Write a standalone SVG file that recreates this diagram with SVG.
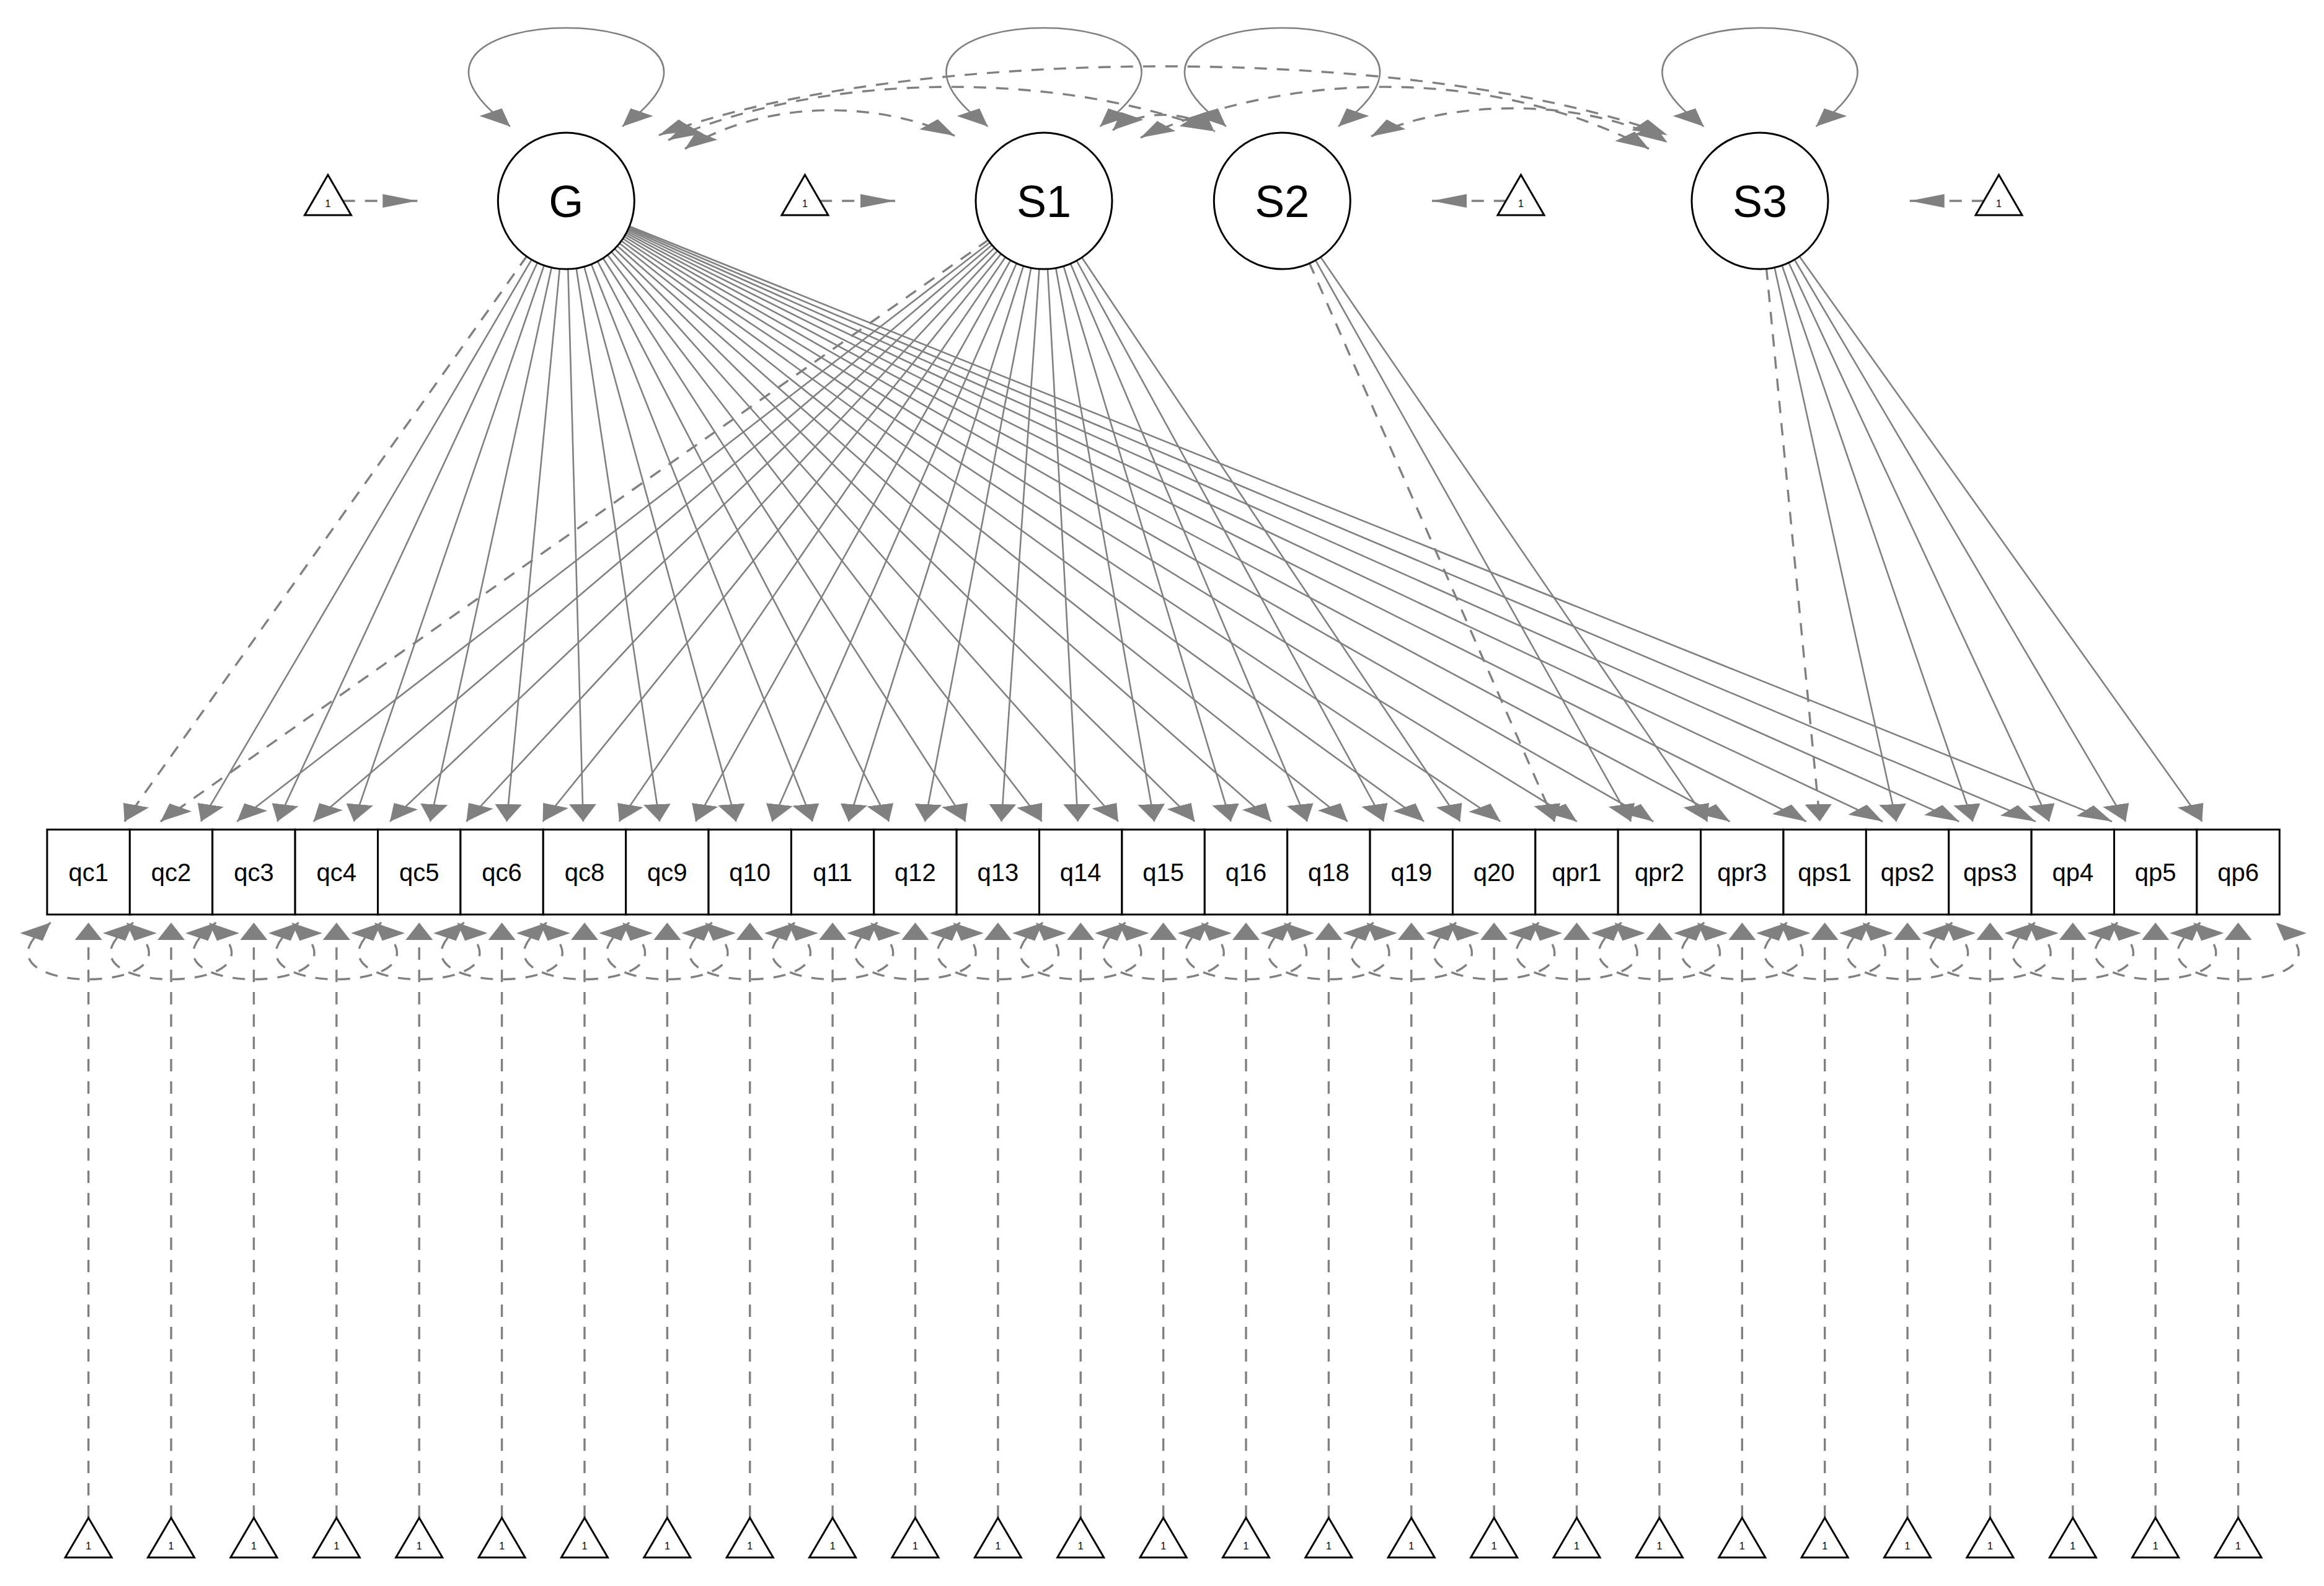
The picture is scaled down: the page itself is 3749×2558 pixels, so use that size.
<svg xmlns="http://www.w3.org/2000/svg" width="3749" height="2558" viewBox="0 0 3749 2558">
<style>
.c{fill:none;stroke:#808080;stroke-width:2.6;vector-effect:non-scaling-stroke}
.d{stroke-dasharray:20 16;stroke-width:3.4}
.a{marker-end:url(#ah)}
.b{marker-start:url(#ah);marker-end:url(#ah)}
.lat circle{fill:#fff;stroke:#000;stroke-width:3}
.lat text{font-family:'Liberation Sans',Arial,sans-serif;font-size:72px;text-anchor:middle;fill:#000}
.man rect{fill:#fff;stroke:#000;stroke-width:3}
.man text{font-family:'Liberation Sans',Arial,sans-serif;font-size:40px;text-anchor:middle;fill:#000}
.tri polygon{fill:#fff;stroke:#000;stroke-width:3;stroke-linejoin:miter}
.tri text{font-family:'Liberation Sans',Arial,sans-serif;font-size:16px;text-anchor:middle;fill:#000}
</style>
<defs>
<marker id="ah" viewBox="0 0 28 22" refX="28" refY="11" markerWidth="28" markerHeight="22" markerUnits="userSpaceOnUse" orient="auto-start-reverse"><path d="M0,0L28,11L0,22z" fill="#808080"/></marker>
</defs>
<rect width="3749" height="2558" fill="#fff"/>
<g id="connectors" transform="scale(2,1)">
<!-- latent variances -->
<path class="c b" d="M411.5,204 c-144.75,-212 235.25,-212 90.5,0"/>
<path class="c b" d="M796.75,204 c-144.75,-212 235.25,-212 90.5,0"/>
<path class="c b" d="M989,204 c-144.75,-212 235.25,-212 90.5,0"/>
<path class="c b" d="M1374.25,204 c-144.75,-212 235.25,-212 90.5,0"/>
<!-- latent covariances -->
<path class="c d b" d="M531.5,218 C731.5,70 1145,70 1345,218"/>
<path class="c d b" d="M539,226 C664,114 855,114 980,212"/>
<path class="c d b" d="M552.5,240 C617.5,161 705,161 770,219"/>
<path class="c d b" d="M897.5,210 C920,177 956.5,177 979,210"/>
<path class="c d b" d="M920,222 C1045,110 1205,110 1330,240"/>
<path class="c d b" d="M1106,220 C1170,158 1280,158 1345,230"/>
<!-- latent intercepts -->
<path class="c d a" d="M276.35,324 H336.65"/>
<path class="c d a" d="M661.1,324 H722"/>
<path class="c d a" d="M1214.9,324 H1155"/>
<path class="c d a" d="M1600.4,324 H1540.35"/>
<!-- G loadings -->
<path class="c d a" d="M456.65,324 L100.43,1325"/>
<path class="c a" d="M456.65,324 L162.08,1325"/>
<path class="c a" d="M456.65,324 L223.74,1325"/>
<path class="c a" d="M456.65,324 L285.40,1325"/>
<path class="c a" d="M456.65,324 L347.06,1325"/>
<path class="c a" d="M456.65,324 L408.71,1325"/>
<path class="c a" d="M456.65,324 L470.37,1325"/>
<path class="c a" d="M456.65,324 L532.03,1325"/>
<path class="c a" d="M456.65,324 L593.69,1325"/>
<path class="c a" d="M456.65,324 L655.34,1325"/>
<path class="c a" d="M456.65,324 L717.00,1325"/>
<path class="c a" d="M456.65,324 L778.66,1325"/>
<path class="c a" d="M456.65,324 L840.32,1325"/>
<path class="c a" d="M456.65,324 L901.97,1325"/>
<path class="c a" d="M456.65,324 L963.63,1325"/>
<path class="c a" d="M456.65,324 L1025.29,1325"/>
<path class="c a" d="M456.65,324 L1086.95,1325"/>
<path class="c a" d="M456.65,324 L1148.60,1325"/>
<path class="c a" d="M456.65,324 L1210.26,1325"/>
<path class="c a" d="M456.65,324 L1271.92,1325"/>
<path class="c a" d="M456.65,324 L1333.58,1325"/>
<path class="c a" d="M456.65,324 L1395.23,1325"/>
<path class="c a" d="M456.65,324 L1456.89,1325"/>
<path class="c a" d="M456.65,324 L1518.55,1325"/>
<path class="c a" d="M456.65,324 L1580.21,1325"/>
<path class="c a" d="M456.65,324 L1641.86,1325"/>
<path class="c a" d="M456.65,324 L1703.52,1325"/>
<!-- S1 loadings -->
<path class="c d a" d="M842,324 L129.50,1325"/>
<path class="c a" d="M842,324 L191.16,1325"/>
<path class="c a" d="M842,324 L252.82,1325"/>
<path class="c a" d="M842,324 L314.48,1325"/>
<path class="c a" d="M842,324 L376.13,1325"/>
<path class="c a" d="M842,324 L437.79,1325"/>
<path class="c a" d="M842,324 L499.45,1325"/>
<path class="c a" d="M842,324 L561.10,1325"/>
<path class="c a" d="M842,324 L622.76,1325"/>
<path class="c a" d="M842,324 L684.42,1325"/>
<path class="c a" d="M842,324 L746.08,1325"/>
<path class="c a" d="M842,324 L807.73,1325"/>
<path class="c a" d="M842,324 L869.39,1325"/>
<path class="c a" d="M842,324 L931.05,1325"/>
<path class="c a" d="M842,324 L992.70,1325"/>
<path class="c a" d="M842,324 L1054.36,1325"/>
<path class="c a" d="M842,324 L1116.02,1325"/>
<path class="c a" d="M842,324 L1177.68,1325"/>
<!-- S2 loadings -->
<path class="c d a" d="M1034.15,324 L1253.84,1325"/>
<path class="c a" d="M1034.15,324 L1315.50,1325"/>
<path class="c a" d="M1034.15,324 L1377.16,1325"/>
<!-- S3 loadings -->
<path class="c d a" d="M1419.5,324 L1467.89,1325"/>
<path class="c a" d="M1419.5,324 L1529.55,1325"/>
<path class="c a" d="M1419.5,324 L1591.20,1325"/>
<path class="c a" d="M1419.5,324 L1652.86,1325"/>
<path class="c a" d="M1419.5,324 L1714.52,1325"/>
<path class="c a" d="M1419.5,324 L1776.17,1325"/>
<!-- residual variances -->
<path class="c d b" d="M40.85,1488 c-82,122 143,122 61,0"/>
<path class="c d b" d="M107.54,1488 c-82,122 143,122 61,0"/>
<path class="c d b" d="M174.23,1488 c-82,122 143,122 61,0"/>
<path class="c d b" d="M240.92,1488 c-82,122 143,122 61,0"/>
<path class="c d b" d="M307.61,1488 c-82,122 143,122 61,0"/>
<path class="c d b" d="M374.30,1488 c-82,122 143,122 61,0"/>
<path class="c d b" d="M440.99,1488 c-82,122 143,122 61,0"/>
<path class="c d b" d="M507.68,1488 c-82,122 143,122 61,0"/>
<path class="c d b" d="M574.37,1488 c-82,122 143,122 61,0"/>
<path class="c d b" d="M641.06,1488 c-82,122 143,122 61,0"/>
<path class="c d b" d="M707.75,1488 c-82,122 143,122 61,0"/>
<path class="c d b" d="M774.44,1488 c-82,122 143,122 61,0"/>
<path class="c d b" d="M841.13,1488 c-82,122 143,122 61,0"/>
<path class="c d b" d="M907.82,1488 c-82,122 143,122 61,0"/>
<path class="c d b" d="M974.51,1488 c-82,122 143,122 61,0"/>
<path class="c d b" d="M1041.20,1488 c-82,122 143,122 61,0"/>
<path class="c d b" d="M1107.89,1488 c-82,122 143,122 61,0"/>
<path class="c d b" d="M1174.58,1488 c-82,122 143,122 61,0"/>
<path class="c d b" d="M1241.27,1488 c-82,122 143,122 61,0"/>
<path class="c d b" d="M1307.96,1488 c-82,122 143,122 61,0"/>
<path class="c d b" d="M1374.65,1488 c-82,122 143,122 61,0"/>
<path class="c d b" d="M1441.34,1488 c-82,122 143,122 61,0"/>
<path class="c d b" d="M1508.03,1488 c-82,122 143,122 61,0"/>
<path class="c d b" d="M1574.72,1488 c-82,122 143,122 61,0"/>
<path class="c d b" d="M1641.41,1488 c-82,122 143,122 61,0"/>
<path class="c d b" d="M1708.10,1488 c-82,122 143,122 61,0"/>
<path class="c d b" d="M1774.79,1488 c-82,122 143,122 61,0"/>
<!-- manifest intercepts -->
<path class="c d a" d="M71.35,2448 V1488"/>
<path class="c d a" d="M138.04,2448 V1488"/>
<path class="c d a" d="M204.73,2448 V1488"/>
<path class="c d a" d="M271.42,2448 V1488"/>
<path class="c d a" d="M338.11,2448 V1488"/>
<path class="c d a" d="M404.80,2448 V1488"/>
<path class="c d a" d="M471.49,2448 V1488"/>
<path class="c d a" d="M538.18,2448 V1488"/>
<path class="c d a" d="M604.87,2448 V1488"/>
<path class="c d a" d="M671.56,2448 V1488"/>
<path class="c d a" d="M738.25,2448 V1488"/>
<path class="c d a" d="M804.94,2448 V1488"/>
<path class="c d a" d="M871.63,2448 V1488"/>
<path class="c d a" d="M938.32,2448 V1488"/>
<path class="c d a" d="M1005.01,2448 V1488"/>
<path class="c d a" d="M1071.70,2448 V1488"/>
<path class="c d a" d="M1138.39,2448 V1488"/>
<path class="c d a" d="M1205.08,2448 V1488"/>
<path class="c d a" d="M1271.77,2448 V1488"/>
<path class="c d a" d="M1338.46,2448 V1488"/>
<path class="c d a" d="M1405.15,2448 V1488"/>
<path class="c d a" d="M1471.84,2448 V1488"/>
<path class="c d a" d="M1538.53,2448 V1488"/>
<path class="c d a" d="M1605.22,2448 V1488"/>
<path class="c d a" d="M1671.91,2448 V1488"/>
<path class="c d a" d="M1738.60,2448 V1488"/>
<path class="c d a" d="M1805.29,2448 V1488"/>
</g>
<g id="latents" class="lat">
<g id="G"><circle cx="913.3" cy="324" r="110"/><text x="913.3" y="350">G</text></g>
<g id="S1"><circle cx="1684" cy="324" r="110"/><text x="1684" y="350">S1</text></g>
<g id="S2"><circle cx="2068.3" cy="324" r="110"/><text x="2068.3" y="350">S2</text></g>
<g id="S3"><circle cx="2839" cy="324" r="110"/><text x="2839" y="350">S3</text></g>
</g>
<g id="latent-intercepts" class="tri">
<g id="int_G" transform="translate(529,282)"><polygon points="0,0 -37.5,65 37.5,65"/><text x="0" y="52">1</text></g>
<g id="int_S1" transform="translate(1298.5,282)"><polygon points="0,0 -37.5,65 37.5,65"/><text x="0" y="52">1</text></g>
<g id="int_S2" transform="translate(2453.5,282)"><polygon points="0,0 -37.5,65 37.5,65"/><text x="0" y="52">1</text></g>
<g id="int_S3" transform="translate(3224.5,282)"><polygon points="0,0 -37.5,65 37.5,65"/><text x="0" y="52">1</text></g>
</g>
<g id="manifests" class="man">
<g id="qc1" transform="translate(76,1338)"><rect width="133.38" height="137"/><text x="66.69" y="83">qc1</text></g>
<g id="qc2" transform="translate(209.38,1338)"><rect width="133.38" height="137"/><text x="66.69" y="83">qc2</text></g>
<g id="qc3" transform="translate(342.76,1338)"><rect width="133.38" height="137"/><text x="66.69" y="83">qc3</text></g>
<g id="qc4" transform="translate(476.14,1338)"><rect width="133.38" height="137"/><text x="66.69" y="83">qc4</text></g>
<g id="qc5" transform="translate(609.52,1338)"><rect width="133.38" height="137"/><text x="66.69" y="83">qc5</text></g>
<g id="qc6" transform="translate(742.90,1338)"><rect width="133.38" height="137"/><text x="66.69" y="83">qc6</text></g>
<g id="qc8" transform="translate(876.28,1338)"><rect width="133.38" height="137"/><text x="66.69" y="83">qc8</text></g>
<g id="qc9" transform="translate(1009.66,1338)"><rect width="133.38" height="137"/><text x="66.69" y="83">qc9</text></g>
<g id="q10" transform="translate(1143.04,1338)"><rect width="133.38" height="137"/><text x="66.69" y="83">q10</text></g>
<g id="q11" transform="translate(1276.42,1338)"><rect width="133.38" height="137"/><text x="66.69" y="83">q11</text></g>
<g id="q12" transform="translate(1409.80,1338)"><rect width="133.38" height="137"/><text x="66.69" y="83">q12</text></g>
<g id="q13" transform="translate(1543.18,1338)"><rect width="133.38" height="137"/><text x="66.69" y="83">q13</text></g>
<g id="q14" transform="translate(1676.56,1338)"><rect width="133.38" height="137"/><text x="66.69" y="83">q14</text></g>
<g id="q15" transform="translate(1809.94,1338)"><rect width="133.38" height="137"/><text x="66.69" y="83">q15</text></g>
<g id="q16" transform="translate(1943.32,1338)"><rect width="133.38" height="137"/><text x="66.69" y="83">q16</text></g>
<g id="q18" transform="translate(2076.70,1338)"><rect width="133.38" height="137"/><text x="66.69" y="83">q18</text></g>
<g id="q19" transform="translate(2210.08,1338)"><rect width="133.38" height="137"/><text x="66.69" y="83">q19</text></g>
<g id="q20" transform="translate(2343.46,1338)"><rect width="133.38" height="137"/><text x="66.69" y="83">q20</text></g>
<g id="qpr1" transform="translate(2476.84,1338)"><rect width="133.38" height="137"/><text x="66.69" y="83">qpr1</text></g>
<g id="qpr2" transform="translate(2610.22,1338)"><rect width="133.38" height="137"/><text x="66.69" y="83">qpr2</text></g>
<g id="qpr3" transform="translate(2743.60,1338)"><rect width="133.38" height="137"/><text x="66.69" y="83">qpr3</text></g>
<g id="qps1" transform="translate(2876.98,1338)"><rect width="133.38" height="137"/><text x="66.69" y="83">qps1</text></g>
<g id="qps2" transform="translate(3010.36,1338)"><rect width="133.38" height="137"/><text x="66.69" y="83">qps2</text></g>
<g id="qps3" transform="translate(3143.74,1338)"><rect width="133.38" height="137"/><text x="66.69" y="83">qps3</text></g>
<g id="qp4" transform="translate(3277.12,1338)"><rect width="133.38" height="137"/><text x="66.69" y="83">qp4</text></g>
<g id="qp5" transform="translate(3410.50,1338)"><rect width="133.38" height="137"/><text x="66.69" y="83">qp5</text></g>
<g id="qp6" transform="translate(3543.88,1338)"><rect width="133.38" height="137"/><text x="66.69" y="83">qp6</text></g>
</g>
<g id="manifest-intercepts" class="tri">
<g id="i_qc1" transform="translate(142.69,2448)"><polygon points="0,0 -37.5,64 37.5,64"/><text x="0" y="51">1</text></g>
<g id="i_qc2" transform="translate(276.07,2448)"><polygon points="0,0 -37.5,64 37.5,64"/><text x="0" y="51">1</text></g>
<g id="i_qc3" transform="translate(409.45,2448)"><polygon points="0,0 -37.5,64 37.5,64"/><text x="0" y="51">1</text></g>
<g id="i_qc4" transform="translate(542.83,2448)"><polygon points="0,0 -37.5,64 37.5,64"/><text x="0" y="51">1</text></g>
<g id="i_qc5" transform="translate(676.21,2448)"><polygon points="0,0 -37.5,64 37.5,64"/><text x="0" y="51">1</text></g>
<g id="i_qc6" transform="translate(809.59,2448)"><polygon points="0,0 -37.5,64 37.5,64"/><text x="0" y="51">1</text></g>
<g id="i_qc8" transform="translate(942.97,2448)"><polygon points="0,0 -37.5,64 37.5,64"/><text x="0" y="51">1</text></g>
<g id="i_qc9" transform="translate(1076.35,2448)"><polygon points="0,0 -37.5,64 37.5,64"/><text x="0" y="51">1</text></g>
<g id="i_q10" transform="translate(1209.73,2448)"><polygon points="0,0 -37.5,64 37.5,64"/><text x="0" y="51">1</text></g>
<g id="i_q11" transform="translate(1343.11,2448)"><polygon points="0,0 -37.5,64 37.5,64"/><text x="0" y="51">1</text></g>
<g id="i_q12" transform="translate(1476.49,2448)"><polygon points="0,0 -37.5,64 37.5,64"/><text x="0" y="51">1</text></g>
<g id="i_q13" transform="translate(1609.87,2448)"><polygon points="0,0 -37.5,64 37.5,64"/><text x="0" y="51">1</text></g>
<g id="i_q14" transform="translate(1743.25,2448)"><polygon points="0,0 -37.5,64 37.5,64"/><text x="0" y="51">1</text></g>
<g id="i_q15" transform="translate(1876.63,2448)"><polygon points="0,0 -37.5,64 37.5,64"/><text x="0" y="51">1</text></g>
<g id="i_q16" transform="translate(2010.01,2448)"><polygon points="0,0 -37.5,64 37.5,64"/><text x="0" y="51">1</text></g>
<g id="i_q18" transform="translate(2143.39,2448)"><polygon points="0,0 -37.5,64 37.5,64"/><text x="0" y="51">1</text></g>
<g id="i_q19" transform="translate(2276.77,2448)"><polygon points="0,0 -37.5,64 37.5,64"/><text x="0" y="51">1</text></g>
<g id="i_q20" transform="translate(2410.15,2448)"><polygon points="0,0 -37.5,64 37.5,64"/><text x="0" y="51">1</text></g>
<g id="i_qpr1" transform="translate(2543.53,2448)"><polygon points="0,0 -37.5,64 37.5,64"/><text x="0" y="51">1</text></g>
<g id="i_qpr2" transform="translate(2676.91,2448)"><polygon points="0,0 -37.5,64 37.5,64"/><text x="0" y="51">1</text></g>
<g id="i_qpr3" transform="translate(2810.29,2448)"><polygon points="0,0 -37.5,64 37.5,64"/><text x="0" y="51">1</text></g>
<g id="i_qps1" transform="translate(2943.67,2448)"><polygon points="0,0 -37.5,64 37.5,64"/><text x="0" y="51">1</text></g>
<g id="i_qps2" transform="translate(3077.05,2448)"><polygon points="0,0 -37.5,64 37.5,64"/><text x="0" y="51">1</text></g>
<g id="i_qps3" transform="translate(3210.43,2448)"><polygon points="0,0 -37.5,64 37.5,64"/><text x="0" y="51">1</text></g>
<g id="i_qp4" transform="translate(3343.81,2448)"><polygon points="0,0 -37.5,64 37.5,64"/><text x="0" y="51">1</text></g>
<g id="i_qp5" transform="translate(3477.19,2448)"><polygon points="0,0 -37.5,64 37.5,64"/><text x="0" y="51">1</text></g>
<g id="i_qp6" transform="translate(3610.57,2448)"><polygon points="0,0 -37.5,64 37.5,64"/><text x="0" y="51">1</text></g>
</g>
</svg>
